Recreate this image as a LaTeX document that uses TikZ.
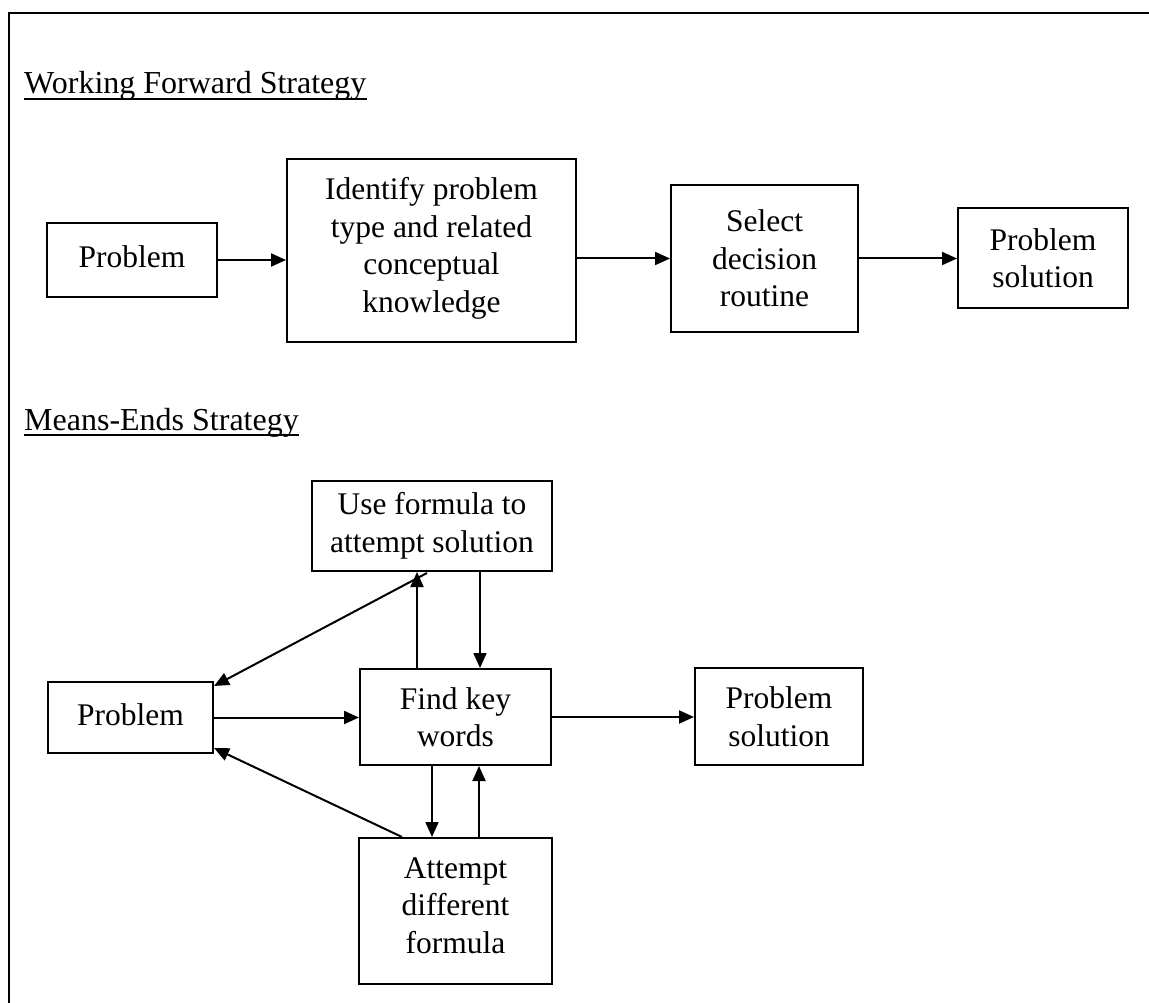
\documentclass[tikz,border=0pt]{standalone}
\usepackage{fontspec}
\setmainfont{Liberation Serif}
\usetikzlibrary{arrows.meta,calc}
\begin{document}
\begin{tikzpicture}[x=1pt,y=-1pt,
  box/.style={draw,line width=2pt,inner sep=0pt,align=center,font=\fontsize{31.5}{37.5}\selectfont},
  arr/.style={line width=2pt,-{Triangle[length=15pt,width=13pt]}},
  ttl/.style={inner sep=0pt,anchor=base west,font=\fontsize{32}{36}\selectfont},
  uline/.style={line width=1.5pt},
  frame/.style={line width=1.5pt}]
\useasboundingbox (0,0) rectangle (1149,1003);
% frame
\coordinate (tl) at (9,13);
\coordinate (tr) at (1149,13);
\coordinate (bl) at (9,1003);
\draw[frame] (tr) -- (tl) -- (bl);
% titles
\node[ttl] (t1) at (24,94) {Working Forward Strategy};
\node[ttl] (t2) at (24,430) {Means-Ends Strategy};
\draw[uline] ([yshift=-5pt]t1.base west) -- ([yshift=-5pt]t1.base east);
\draw[uline] ([yshift=-5pt]t2.base west) -- ([yshift=-5pt]t2.base east);
% working forward
\node[box,minimum width=170pt,minimum height=74pt] (p1) at (132,260) {Problem\strut};
\node[box,minimum width=289pt,minimum height=183pt] (id) at (431.5,250.5) {Identify problem\\type and related\\conceptual\\knowledge\strut};
\node[box,minimum width=187pt,minimum height=147pt] (sel) at (764.5,258.5) {Select\\decision\\routine};
\node[box,minimum width=170pt,minimum height=100pt] (ps1) at (1043,258) {Problem\\solution};
\draw[arr] (p1.east) -- (p1.east -| id.west);
\draw[arr] (sel.west -| id.east) -- (sel.west);
\draw[arr] (sel.east) -- (sel.east -| ps1.west);
% means-ends
\node[box,minimum width=240pt,minimum height=90pt] (uf) at (432,526) {Use formula to\\attempt solution};
\node[box,minimum width=191pt,minimum height=96pt] (fk) at (455.5,717) {Find key\\words};
\node[box,minimum width=168pt,minimum height=97pt] (ps2) at (779,716.5) {Problem\\solution};
\node[box,minimum width=165pt,minimum height=71pt] (p2) at (130.5,717.5) {Problem\strut};
\node[box,minimum width=193pt,minimum height=146pt] (at) at (455.5,911) {Attempt\\different\\formula\strut};
\coordinate (c402) at (402,0);
\coordinate (c417) at (417,0);
\coordinate (c427) at (427,0);
\coordinate (c432) at (432,0);
\coordinate (c479) at (479,0);
\coordinate (c480) at (480,0);
\draw[arr] (fk.north -| c417) -- (uf.south -| c417);
\draw[arr] (uf.south -| c480) -- (fk.north -| c480);
\draw[arr] (fk.south -| c432) -- (at.north -| c432);
\draw[arr] (at.north -| c479) -- (fk.south -| c479);
\draw[arr] (p2.east) -- (p2.east -| fk.west);
\draw[arr] (fk.east) -- (fk.east -| ps2.west);
\draw[arr] ($(uf.south -| c427)+(0,1)$) -- ($(p2.north east)+(0,5)$);
\draw[arr] (at.north -| c402) -- ($(p2.south east)+(0,-6)$);
\end{tikzpicture}
\end{document}
